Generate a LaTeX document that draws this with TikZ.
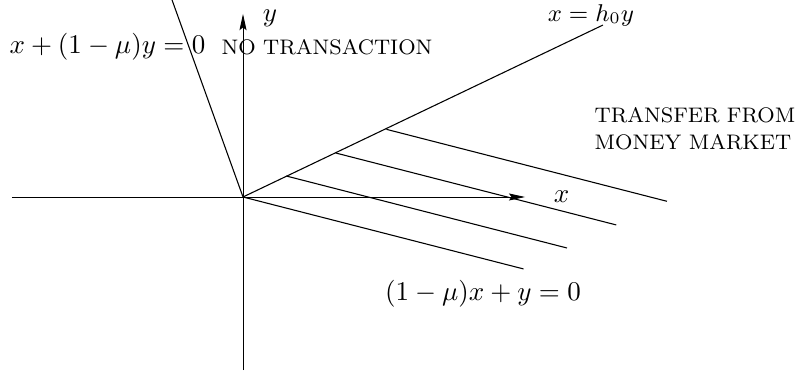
\documentclass[tikz,border=0pt]{standalone}
\usepackage{amsmath,amssymb}
\usetikzlibrary{arrows.meta, positioning, calc}

\tikzset{
  axis/.style={line width=0.35pt, -{Stealth[length=6pt,width=2.6pt,inset=1pt]}},
  region/.style={font=\fontsize{7.8}{10.2}\selectfont, align=left, inner sep=0pt},
}

\begin{document}
\begin{tikzpicture}
  \useasboundingbox (-3.164,-2.344) rectangle (7.265,2.565);
  \coordinate (O) at (0,0);
  \coordinate (H) at (4.687,2.239);
  \coordinate (L) at (-0.924,2.565);
  % axes
  \draw[axis] (-3.008,0) -- (3.673,0) node[right=0.25cm] (xl) {$x$};
  \draw[axis] (0,-2.253) -- (0,2.383);
  \node[inner sep=0pt] (yl) at (0.352,2.33) {$y$};
  % boundary lines
  \draw (O) -- (L);
  \draw (O) -- (H);
  \node[font=\small] (hl) at (4.531,2.370) {$x=h_0y$};
  \node (ll) at (-1.764,1.953) {$x+(1-\mu)y=0$};
  % hatching parallel to (1-mu)x+y=0
  \draw (O) -- ++(3.653,-0.937) coordinate (e0);
  \draw (0.565,0.273) -- ++(3.653,-0.937) coordinate (e1);
  \draw (1.207,0.573) -- ++(3.653,-0.937) coordinate (e2);
  \draw (1.867,0.881) -- ++(3.653,-0.937) coordinate (e3);
  \node (ml) at (3.125,-1.256) {$(1-\mu)x+y=0$};
  % regions
  \node[region] (nt) at (1.094,1.947) {NO TRANSACTION};
  \node[region] (tf) at (5.885,0.892) {TRANSFER FROM\\MONEY MARKET};
\end{tikzpicture}
\end{document}
